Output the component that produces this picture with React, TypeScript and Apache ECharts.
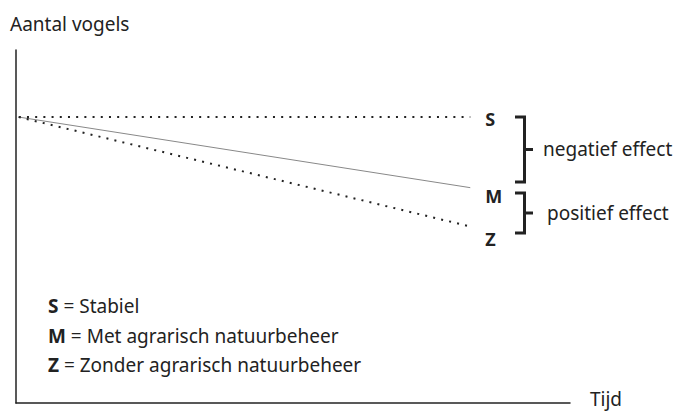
import React, { useEffect, useRef } from "react";
import * as echarts from "echarts";

const timePoints = [0.5, 82];
const stabiel = [81, 81];
const met = [81, 61];
const zonder = [81, 50];
const seriesCodes = ["S", "M", "Z"];
const legendTexts = ["Stabiel", "Met agrarisch natuurbeheer", "Zonder agrarisch natuurbeheer"];
const effectTexts = ["negatief effect", "positief effect"];
const yTitle = "Aantal vogels";
const xTitle = "Tijd";

const FONT = "Noto Sans";
const INK = "#222";
const FS = 19;

export default function App() {
  const ref = useRef<HTMLDivElement>(null);
  useEffect(() => {
    if (!ref.current) return;
    const chart = echarts.init(ref.current, null, { renderer: "svg" });
    const pts = (vals: number[]) => timePoints.map((t, i) => [t, vals[i]]);
    const dotted = { type: [2, 6.2], width: 2, color: INK, cap: "butt" as const };
    const endLabel = (code: string, dy: number) => ({
      show: true,
      formatter: code,
      fontFamily: FONT,
      fontWeight: "bold" as const,
      fontSize: 18,
      color: INK,
      distance: 15,
      offset: [0, dy],
    });
    const bracket = (top: number, bottom: number) => {
      const mid = (top + bottom) / 2;
      return [
        {
          type: "polyline",
          shape: { points: [[515, top], [524.5, top], [524.5, bottom], [515, bottom]] },
          style: { stroke: INK, lineWidth: 3, fill: null },
        },
        {
          type: "line",
          shape: { x1: 524.5, y1: mid, x2: 533, y2: mid },
          style: { stroke: INK, lineWidth: 3 },
        },
      ];
    };
    const legendYs = [306, 336, 365];
    chart.setOption({
      animation: false,
      title: {
        text: yTitle,
        left: 5,
        top: 9,
        textStyle: { fontFamily: FONT, fontSize: FS, fontWeight: "normal", color: INK },
      },
      grid: { left: 16, top: 50, right: 109, bottom: 9, containLabel: false },
      xAxis: {
        type: "value",
        min: 0,
        max: 100,
        axisLine: { show: true, onZero: false, lineStyle: { color: INK, width: 1.5 } },
        axisTick: { show: false },
        axisLabel: { show: false },
        splitLine: { show: false },
      },
      yAxis: {
        type: "value",
        min: 0,
        max: 100,
        axisLine: { show: true, onZero: false, lineStyle: { color: INK, width: 1.5 } },
        axisTick: { show: false },
        axisLabel: { show: false },
        splitLine: { show: false },
      },
      series: [
        {
          name: seriesCodes[0],
          type: "line",
          data: pts(stabiel),
          symbol: "none",
          lineStyle: dotted,
          endLabel: endLabel(seriesCodes[0], 2),
        },
        {
          name: seriesCodes[1],
          type: "line",
          data: pts(met),
          symbol: "none",
          lineStyle: { type: "solid", width: 1, color: "#888" },
          endLabel: endLabel(seriesCodes[1], 8),
        },
        {
          name: seriesCodes[2],
          type: "line",
          data: pts(zonder),
          symbol: "none",
          lineStyle: dotted,
          endLabel: endLabel(seriesCodes[2], 12),
        },
      ],
      graphic: [
        ...bracket(117, 182),
        ...bracket(193, 233),
        {
          type: "text",
          x: 543,
          y: 149,
          style: { text: effectTexts[0], fontFamily: FONT, fontSize: FS, fill: INK, verticalAlign: "middle" },
        },
        {
          type: "text",
          x: 547,
          y: 213,
          style: { text: effectTexts[1], fontFamily: FONT, fontSize: FS, fill: INK, verticalAlign: "middle" },
        },
        {
          type: "text",
          x: 590,
          y: 399,
          style: { text: xTitle, fontFamily: FONT, fontSize: FS, fill: INK, verticalAlign: "middle" },
        },
        ...legendTexts.map((t, i) => ({
          type: "text",
          x: 48,
          y: legendYs[i],
          style: {
            text: `{b|${seriesCodes[i]}} = ${t}`,
            fontFamily: FONT,
            fontSize: FS,
            fill: INK,
            verticalAlign: "middle",
            rich: {
              b: { fontFamily: FONT, fontSize: FS, fontWeight: "bold", fill: INK },
            },
          },
        })),
      ],
    });
    return () => chart.dispose();
  }, []);
  return (
    <div
      ref={ref}
      style={{ position: "absolute", left: 0, top: 0, width: 679, height: 412, background: "#fff" }}
    />
  );
}
